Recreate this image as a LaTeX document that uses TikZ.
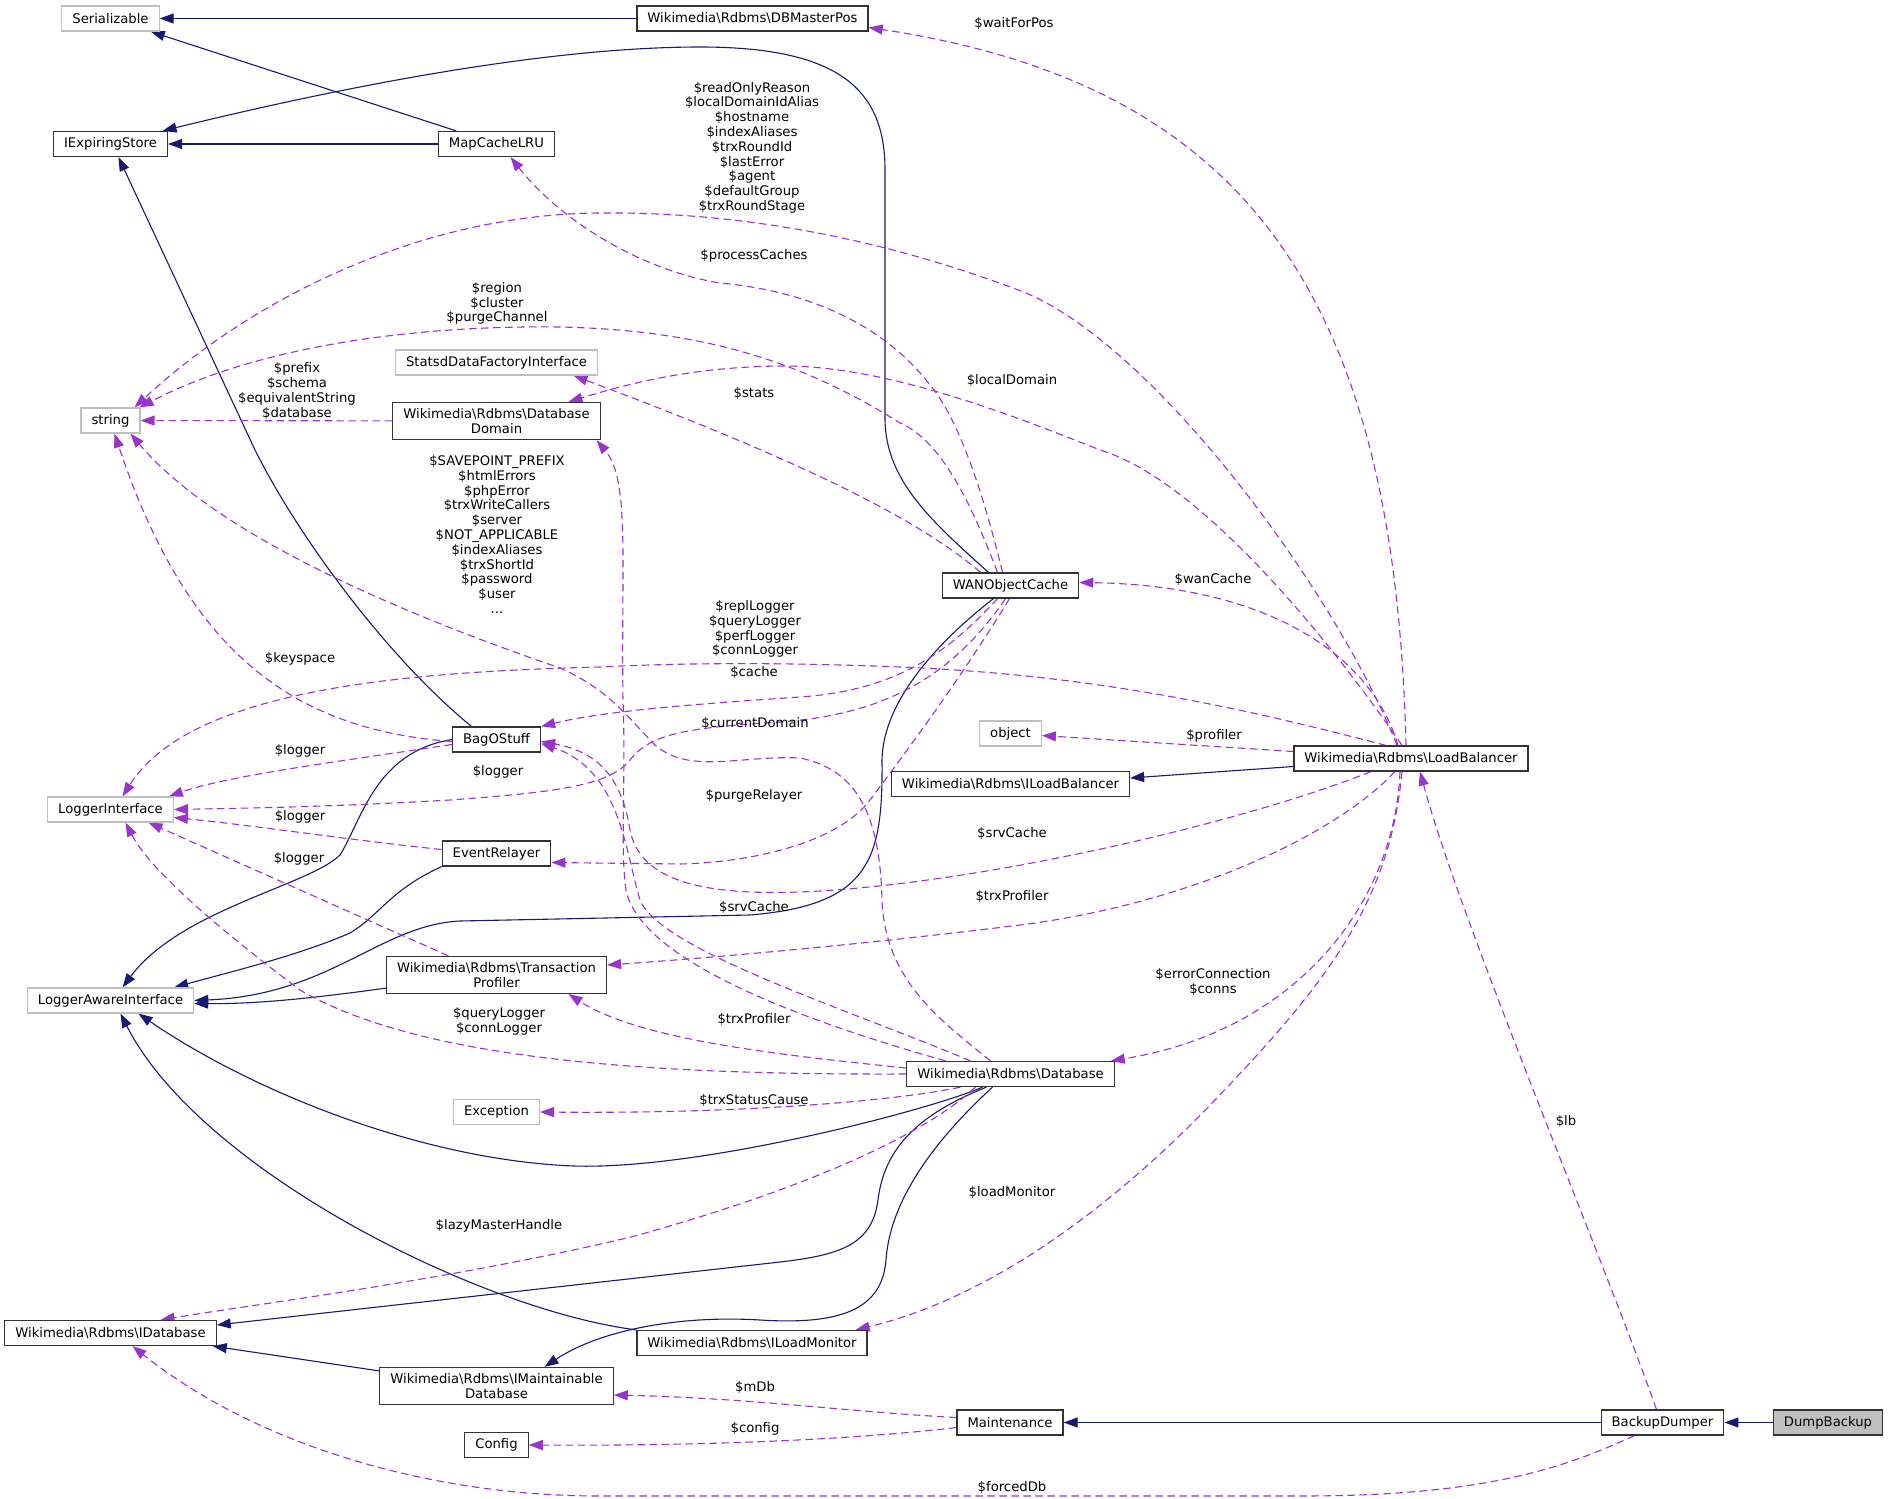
\documentclass[tikz,border=0pt]{standalone}
\usepackage{fontspec}
\setmainfont{DejaVu Sans}
\usepackage{tikz}
\usetikzlibrary{arrows.meta,backgrounds}
\definecolor{navy}{RGB}{25,25,112}
\definecolor{orchid}{RGB}{154,50,205}
\definecolor{boxgray}{RGB}{191,191,191}
\newcommand{\dxfont}{\fontsize{13.2}{14.8}\selectfont}
\tikzset{
  cls/.style={draw=black!80, fill=#1, line width=1.2pt, inner xsep=10.5pt, inner ysep=6pt, minimum height=25pt, align=center, font=\dxfont},
  cls/.default={white},
  extcls/.style={cls, draw=boxgray},
  inh/.style={draw=navy, line width=1.1pt, -{Triangle[length=14pt,width=10pt]}},
  mem/.style={draw=orchid, line width=1.1pt, dash pattern=on 7.5pt off 4.5pt, -{Triangle[length=14pt,width=10pt]}},
  lab/.style={font=\dxfont, align=center, inner sep=0pt}
}
\begin{document}
\begin{tikzpicture}[x=1pt, y=-1pt]
  \useasboundingbox (0,0) rectangle (1888,1499);
  \node[extcls] (serial) at (110.5,18.5) {Serializable};
  \node[cls] (dbmpos) at (752.5,18.5) {Wikimedia\textbackslash Rdbms\textbackslash DBMasterPos};
  \node[cls] (iexp) at (110.5,144) {IExpiringStore};
  \node[cls] (mapcache) at (496.5,144) {MapCacheLRU};
  \node[extcls] (statsd) at (496.5,362.5) {StatsdDataFactoryInterface};
  \node[cls] (dbdomain) at (496.5,421) {Wikimedia\textbackslash Rdbms\textbackslash Database\\Domain};
  \node[extcls] (string) at (110.5,420.5) {string};
  \node[cls] (bag) at (496.5,739.5) {BagOStuff};
  \node[extcls] (loggeri) at (110.5,809.5) {LoggerInterface};
  \node[cls] (evrel) at (496.5,853.5) {EventRelayer};
  \node[cls] (txprof) at (496.5,975) {Wikimedia\textbackslash Rdbms\textbackslash Transaction\\Profiler};
  \node[extcls] (lai) at (110.5,1000.5) {LoggerAwareInterface};
  \node[extcls] (exc) at (496.5,1112) {Exception};
  \node[cls] (idb) at (110.5,1333) {Wikimedia\textbackslash Rdbms\textbackslash IDatabase};
  \node[cls] (ilm) at (752,1343) {Wikimedia\textbackslash Rdbms\textbackslash ILoadMonitor};
  \node[cls] (imaint) at (496.5,1386) {Wikimedia\textbackslash Rdbms\textbackslash IMaintainable\\Database};
  \node[cls] (config) at (496.5,1445) {Config};
  \node[cls] (wan) at (1010.5,585.5) {WANObjectCache};
  \node[extcls] (object) at (1010.5,733.5) {object};
  \node[cls] (ilb) at (1010.5,784) {Wikimedia\textbackslash Rdbms\textbackslash ILoadBalancer};
  \node[cls] (lb) at (1411,758.5) {Wikimedia\textbackslash Rdbms\textbackslash LoadBalancer};
  \node[cls] (db) at (1010.5,1074) {Wikimedia\textbackslash Rdbms\textbackslash Database};
  \node[cls] (maint) at (1010,1422.5) {Maintenance};
  \node[cls] (bdump) at (1662.5,1422.5) {BackupDumper};
  \node[cls=boxgray] (dump) at (1828,1422.5) {DumpBackup};

  \node[lab] (lWait) at (1014,23) {\$waitForPos};
  \node[lab] (lRead) at (752,147.7) {\$readOnlyReason\\\$localDomainIdAlias\\\$hostname\\\$indexAliases\\\$trxRoundId\\\$lastError\\\$agent\\\$defaultGroup\\\$trxRoundStage};
  \node[lab] (lProc) at (754,256) {\$processCaches};
  \node[lab] (lRegion) at (497,303.5) {\$region\\\$cluster\\\$purgeChannel};
  \node[lab] (lLocal) at (1012,380) {\$localDomain};
  \node[lab] (lStats) at (754,393) {\$stats};
  \node[lab] (lPrefix) at (297,391) {\$prefix\\\$schema\\\$equivalentString\\\$database};
  \node[lab] (lSave) at (497,534.5) {\$SAVEPOINT\_PREFIX\\\$htmlErrors\\\$phpError\\\$trxWriteCallers\\\$server\\\$NOT\_APPLICABLE\\\$indexAliases\\\$trxShortId\\\$password\\\$user\\...};
  \node[lab] (lRepl) at (755,629) {\$replLogger\\\$queryLogger\\\$perfLogger\\\$connLogger};
  \node[lab] (lCache) at (754,672) {\$cache};
  \node[lab] (lKey) at (300,659) {\$keyspace};
  \node[lab] (lCurDom) at (755,723) {\$currentDomain};
  \node[lab] (lLogBag) at (300,751) {\$logger};
  \node[lab] (lLogWan) at (498,772) {\$logger};
  \node[lab] (lPurge) at (754,796) {\$purgeRelayer};
  \node[lab] (lLogEv) at (300,817) {\$logger};
  \node[lab] (lLogTp) at (299,859) {\$logger};
  \node[lab] (lSrvLb) at (1012,833) {\$srvCache};
  \node[lab] (lSrvDb) at (754,907) {\$srvCache};
  \node[lab] (lTrxLb) at (1012,896) {\$trxProfiler};
  \node[lab] (lTrxDb) at (754,1019) {\$trxProfiler};
  \node[lab] (lQuery) at (499,1021) {\$queryLogger\\\$connLogger};
  \node[lab] (lErr) at (1213,982) {\$errorConnection\\\$conns};
  \node[lab] (lStatus) at (754,1100) {\$trxStatusCause};
  \node[lab] (lLoad) at (1012,1192) {\$loadMonitor};
  \node[lab] (lLazy) at (499,1226) {\$lazyMasterHandle};
  \node[lab] (lLb) at (1566,1121) {\$lb};
  \node[lab] (lMdb) at (755,1387) {\$mDb};
  \node[lab] (lConfig) at (755,1429) {\$config};
  \node[lab] (lForced) at (1012,1487) {\$forcedDb};
  \node[lab] (lWan) at (1213,579) {\$wanCache};
  \node[lab] (lProf) at (1214,736) {\$profiler};

  \begin{scope}[on background layer]
  \draw[inh] (dbmpos) -- (serial);
  \draw[inh] (mapcache) -- (serial);
  \draw[inh] (mapcache) -- (iexp);
  \draw[inh] ([xshift=-22pt]wan.north) .. controls (930,520) and (886,480) .. (885,420) -- (885,170) .. controls (885,90) and (840,47) .. (700,47) .. controls (550,47) and (350,85) .. ([xshift=52pt]iexp.north);
  \draw[inh] ([xshift=-25pt]bag.north) .. controls (390,660) and (300,540) .. (255,450) -- ([xshift=8pt]iexp.south);
  \draw[inh] (bag.west) .. controls (375,752) and (362,820) .. (340,855) .. controls (310,885) and (180,910) .. ([xshift=12pt]lai.north);
  \draw[inh] (evrel.south west) .. controls (390,890) and (380,915) .. (350,933) .. controls (300,955) and (230,972) .. ([xshift=-20pt]lai.north east);
  \draw[inh] ([xshift=-17pt]wan.south) .. controls (940,640) and (883,700) .. (882,760) .. controls (883,860) and (870,905) .. (750,915) -- (460,921) .. controls (380,925) and (330,995) .. (lai.east);
  \draw[inh] ([yshift=6pt]txprof.south west) .. controls (300,1000) and (250,1004) .. ([yshift=-3pt]lai.east);
  \draw[inh] ([xshift=-28pt]db.south) .. controls (930,1110) and (700,1170) .. (574,1166) .. controls (420,1160) and (250,1090) .. ([xshift=28pt]lai.south);
  \draw[inh] (ilm.north west) .. controls (480,1310) and (200,1170) .. ([xshift=10pt]lai.south);
  \draw[inh] ([xshift=-24pt]db.south) .. controls (930,1110) and (885,1140) .. (878,1200) .. controls (872,1245) and (840,1255) .. (780,1262) -- ([yshift=8pt]idb.east);
  \draw[inh] ([xshift=-18pt]db.south) .. controls (935,1140) and (890,1200) .. (886,1260) .. controls (882,1310) and (840,1325) .. (760,1320) .. controls (680,1315) and (600,1330) .. ([xshift=48pt]imaint.north);
  \draw[inh] ([yshift=-4pt]imaint.north west) -- ([xshift=-4pt]idb.south east);
  \draw[inh] ([yshift=-8pt]lb.west) -- ([yshift=6pt]ilb.east);
  \draw[inh] (bdump) -- (maint);
  \draw[inh] (dump) -- (bdump);

  \draw[mem] ([xshift=-5pt]lb.north) .. controls (1395,300) and (1250,85) .. ([yshift=-9pt]dbmpos.east);
  \draw[mem] ([xshift=-14pt]lb.north) .. controls (1340,600) and (1160,350) .. (1026,293) .. controls (850,225) and (700,212) .. (600,213) .. controls (420,214) and (250,300) .. ([xshift=-6pt]string.north east);
  \draw[mem] ([xshift=-8pt]wan.north) .. controls (985,500) and (960,420) .. (930,385) .. controls (880,320) and (800,290) .. (720,283) .. controls (640,270) and (560,220) .. ([xshift=14pt]mapcache.south);
  \draw[mem] ([xshift=-13pt]wan.north) .. controls (970,500) and (940,440) .. (900,423) .. controls (800,360) and (700,330) .. (560,327) .. controls (400,325) and (250,350) .. ([xshift=-1pt]string.north east);
  \draw[mem] ([xshift=-30pt]wan.north) .. controls (920,520) and (800,460) .. ([xshift=77pt]statsd.south);
  \draw[mem] ([xshift=-9pt]lb.north) .. controls (1330,640) and (1200,480) .. (1100,450) .. controls (1000,410) and (880,365) .. (780,366) .. controls (700,367) and (640,380) .. ([xshift=72pt]dbdomain.north);
  \draw[mem] (dbdomain) -- (string);
  \draw[mem] ([xshift=-20pt]db.north) .. controls (940,1020) and (885,980) .. (882,900) .. controls (880,820) and (860,770) .. (800,758) .. controls (740,755) and (690,775) .. (655,745) .. controls (630,720) and (610,690) .. (560,668) .. controls (420,620) and (220,540) .. ([xshift=20pt]string.south);
  \draw[mem] ([yshift=-2pt]bag.west) .. controls (300,730) and (190,660) .. ([xshift=4pt]string.south);
  \draw[mem] ([xshift=-65pt]db.north) .. controls (800,1020) and (640,960) .. (626,890) .. controls (620,850) and (626,780) .. (623,700) .. controls (621,560) and (630,480) .. ([xshift=100pt]dbdomain.south);
  \draw[mem] ([xshift=-25pt]lb.north) .. controls (1250,710) and (1100,675) .. (900,667) .. controls (800,663) and (700,662) .. (600,667) .. controls (400,672) and (190,690) .. ([xshift=12pt]loggeri.north);
  \draw[mem] ([xshift=-13pt]wan.south) .. controls (950,650) and (900,690) .. (800,697) .. controls (680,705) and (600,712) .. (bag.north east);
  \draw[mem] ([yshift=-5pt]bag.west) .. controls (350,760) and (230,775) .. ([xshift=-5pt]loggeri.north east);
  \draw[mem] ([xshift=-5pt]wan.south) .. controls (950,680) and (880,715) .. (780,722) .. controls (680,728) and (650,735) .. (630,760) .. controls (610,785) and (560,792) .. (450,800) .. controls (330,807) and (250,808) .. (loggeri.east);
  \draw[mem] ([xshift=-1pt]wan.south) .. controls (960,680) and (900,760) .. (870,800) .. controls (840,840) and (760,862) .. (680,864) -- ([yshift=-9pt]evrel.east);
  \draw[mem] ([yshift=4pt]evrel.west) .. controls (350,840) and (250,825) .. ([yshift=-8pt]loggeri.east);
  \draw[mem] ([xshift=-48pt]txprof.north) -- ([xshift=38pt]loggeri.south);
  \draw[mem] ([xshift=-13pt]lb.north) .. controls (1370,650) and (1260,585) .. ([yshift=3pt]wan.east);
  \draw[mem] ([yshift=7pt]lb.west) -- ([yshift=-2pt]object.east);
  \draw[mem] ([xshift=-40pt]lb.south) .. controls (1250,820) and (1000,880) .. (820,891) .. controls (700,898) and (640,880) .. (630,830) .. controls (622,780) and (600,752) .. ([yshift=-2pt]bag.east);
  \draw[mem] ([xshift=-40pt]db.north) .. controls (850,1010) and (660,950) .. (640,900) .. controls (625,850) and (620,770) .. ([yshift=-4pt]bag.east);
  \draw[mem] ([xshift=-16pt]lb.south) .. controls (1330,840) and (1180,905) .. (1020,925) .. controls (900,940) and (750,955) .. ([yshift=10pt]txprof.east);
  \draw[mem] ([yshift=6pt]db.west) .. controls (780,1055) and (640,1040) .. ([xshift=72pt]txprof.south);
  \draw[mem] (db.west) .. controls (650,1075) and (420,1060) .. (300,990) .. controls (220,930) and (150,870) .. ([xshift=15pt]loggeri.south);
  \draw[mem] ([xshift=-11pt]lb.south) .. controls (1395,900) and (1300,1030) .. ([xshift=-4pt]db.north east);
  \draw[mem] ([xshift=-50pt]db.south) .. controls (900,1100) and (750,1114) .. (exc.east);
  \draw[mem] ([xshift=-35pt]db.south) .. controls (930,1130) and (820,1185) .. (631,1237) .. controls (450,1280) and (250,1305) .. ([xshift=50pt]idb.north);
  \draw[mem] ([xshift=-9pt]lb.south) .. controls (1390,900) and (1330,980) .. (1215,1100) .. controls (1100,1220) and (980,1300) .. ([xshift=-12pt]ilm.north east);
  \draw[mem] ([xshift=-6pt]bdump.north) .. controls (1600,1250) and (1460,920) .. ([xshift=9pt]lb.south);
  \draw[mem] ([yshift=5pt]maint.west) .. controls (850,1412) and (750,1398) .. ([yshift=-9pt]imaint.east);
  \draw[mem] ([yshift=-5pt]maint.west) .. controls (850,1440) and (700,1446) .. (config.east);
  \draw[mem] ([xshift=-28pt]bdump.south) .. controls (1560,1470) and (1480,1496) .. (1300,1496) -- (600,1496) .. controls (420,1496) and (250,1440) .. ([xshift=22pt]idb.south);
  \end{scope}
\end{tikzpicture}
\end{document}
